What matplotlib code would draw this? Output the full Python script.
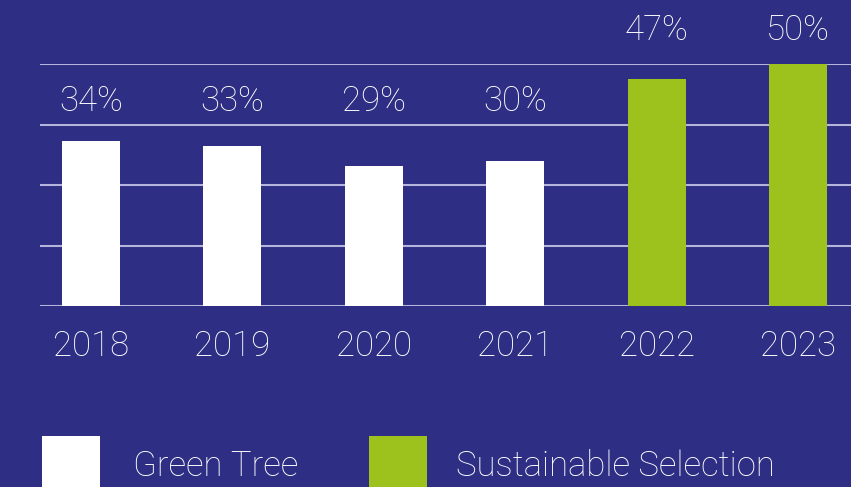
import matplotlib
matplotlib.use("Agg")
import matplotlib.pyplot as plt
from matplotlib.patches import Rectangle

years = ["2018", "2019", "2020", "2021", "2022", "2023"]
values = [34, 33, 29, 30, 47, 50]
series = ["Green Tree", "Green Tree", "Green Tree", "Green Tree",
          "Sustainable Selection", "Sustainable Selection"]
legend_labels = ["Green Tree", "Sustainable Selection"]
colors = {"Green Tree": "#ffffff", "Sustainable Selection": "#9dc21e"}
# vertical position of the value labels (data units) for each series
label_y = {"Green Tree": 42.4, "Sustainable Selection": 57.0}

BG = "#2d2e84"
plt.rcParams['font.family'] = ['Roboto', 'DejaVu Sans']
FS = 25
FW = 'light'

fig = plt.figure(figsize=(8.51, 4.87), dpi=100, facecolor=BG)
ax = fig.add_axes([40/851, 1-306/487, 1-40/851, (306-64)/487])
ax.set_facecolor(BG)

x = list(range(len(years)))
ax.bar(x, values, width=0.41, color=[colors[s] for s in series], zorder=3)
ax.set_xlim(-0.36, 5.375)
ax.set_ylim(0, 50)
ax.set_yticks([0, 12.5, 25, 37.5, 50])
ax.yaxis.grid(True, color="#b4b4dc", linewidth=1.5, zorder=1)
ax.tick_params(axis='y', length=0, labelleft=False)
ax.tick_params(axis='x', length=0, pad=17, labelsize=FS, labelcolor="white")
ax.set_xticks(x)
ax.set_xticklabels(years, fontweight=FW)
for s in ax.spines.values():
    s.set_visible(False)

for xi, v, s in zip(x, values, series):
    ax.text(xi, label_y[s], f"{v}%", ha="center", va="center", color="white",
            fontsize=FS, fontweight=FW, clip_on=False)

# legend
for i, lab in enumerate(legend_labels):
    x0 = [42, 369][i] / 851
    tx = [133, 456][i] / 851
    fig.patches.append(Rectangle((x0, 0), 58/851, 51/487, transform=fig.transFigure,
                                 facecolor=colors[lab], edgecolor='none'))
    fig.text(tx, 21/487, lab, color="white", fontsize=FS,
             fontweight=FW, ha="left", va="center")

fig.savefig("out.png", dpi=100, facecolor=BG)
